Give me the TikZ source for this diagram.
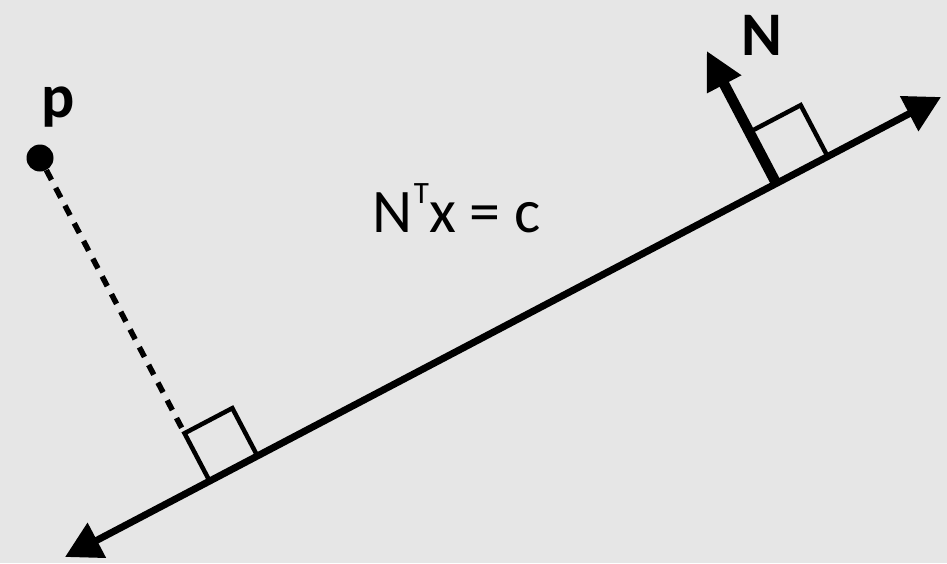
\documentclass[tikz,border=0pt]{standalone}
\usepackage{fontspec}
\setmainfont{Carlito}
\usetikzlibrary{arrows.meta,positioning,calc}
\definecolor{bgc}{RGB}{230,230,230}

\begin{document}
\begin{tikzpicture}[x=1pt,y=-1pt,
  plane/.style={line width=7pt,{Triangle[length=36pt,width=38pt]}-{Triangle[length=36pt,width=38pt]}},
  normal/.style={line width=10.5pt,-{Triangle[length=38pt,width=36pt]}},
  rangle/.style={line width=4.5pt,line join=miter},
  proj/.style={line width=5.5pt,dash pattern=on 11pt off 9pt},
  dot/.style={circle,fill=black,inner sep=0pt,minimum size=27pt},
  lab/.style={font=\fontsize{62}{70}\selectfont,inner sep=0pt}]
\fill[bgc] (0,0) rectangle (947,563);
\useasboundingbox (0,0) rectangle (947,563);
% the plane and the point
\coordinate (a) at (65,557);
\coordinate (b) at (941,97);
\node[dot] (p) at (40,158) {};
\node[lab,font=\fontsize{62}{70}\selectfont\bfseries,anchor=base] (plab) at (58,117) {p};
% foot of p on the plane
\coordinate (f) at ($(a)!(p)!(b)$);
\coordinate (f1) at ($(f)!54pt!(b)$);
\coordinate (f2) at ($(f1)!54pt!90:(b)$);
\coordinate (f3) at ($(f)!54pt!90:(b)$);
% normal
\coordinate (g) at ($(a)!0.812!(b)$);
\coordinate (g1) at ($(g)!58pt!(b)$);
\coordinate (g2) at ($(g1)!58pt!90:(b)$);
\coordinate (g3) at ($(g)!58pt!90:(b)$);
\coordinate (nt) at ($(g)!150pt!90:(b)$);
\node[lab,font=\fontsize{62}{70}\selectfont\bfseries,anchor=base] (nlab) at (762,55) {N};
\node[lab,anchor=base] (eq) at (457,232) {N\kern1pt\raisebox{29pt}{\fontsize{31}{31}\selectfont T}x = c};
\draw[proj] (p) -- (f3);
\draw[rangle] (f3) -- (f) -- (f1) -- (f2) -- cycle;
\draw[rangle] (g) -- (g1) -- (g2) -- (g3);
\draw[normal] (g) -- (nt);
\draw[plane] (a) -- (b);
\end{tikzpicture}
\end{document}
